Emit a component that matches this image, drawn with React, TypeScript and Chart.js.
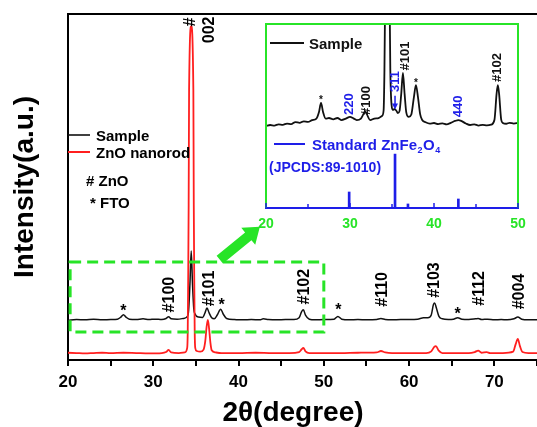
import React, { useEffect, useRef } from 'react';
import { Chart, registerables } from 'chart.js';

Chart.register(...registerables);

const FONT = "'Liberation Sans', Arial, Helvetica, sans-serif";
const GREEN = '#27e427';
const BLUE = '#1e1ee8';
const RED = '#ff1f1f';
const BLACK = '#111111';

// ---------- main pattern: Sample (black) ----------
const sampleTheta = [20.0, 21.0, 22.0, 23.0, 24.0, 25.0, 25.8, 26.2, 26.5, 26.8, 27.2, 28.0, 28.8, 29.5, 30.2, 31.0, 31.5, 31.8, 32.1, 32.8, 33.5, 34.0, 34.15, 34.3, 34.45, 34.6, 34.75, 34.9, 35.3, 35.8, 36.05, 36.3, 36.55, 36.85, 37.15, 37.5, 37.9, 38.2, 38.6, 39.5, 40.5, 41.5, 42.5, 42.9, 43.5, 44.5, 45.5, 46.5, 47.1, 47.4, 47.6, 47.85, 48.3, 49.0, 50.0, 51.2, 51.65, 52.1, 53.0, 54.0, 55.0, 56.2, 56.7, 57.2, 58.0, 59.0, 60.0, 61.0, 61.7, 62.2, 62.6, 62.85, 63.0, 63.2, 63.5, 63.9, 64.6, 65.2, 65.7, 66.2, 67.0, 67.8, 68.1, 68.5, 69.2, 70.0, 70.8, 71.5, 72.3, 72.75, 73.2, 74.0, 75.0];
const sampleIntensity = [11.5, 11.7, 11.6, 11.8, 11.6, 11.7, 11.8, 12.4, 13.1, 12.4, 11.8, 11.7, 11.9, 11.7, 11.8, 11.7, 12.0, 12.5, 11.9, 11.8, 12.0, 12.6, 14.5, 22.0, 31.5, 22.0, 14.8, 13.3, 12.4, 12.3, 13.5, 15.0, 13.6, 12.2, 11.9, 13.0, 14.7, 13.3, 12.0, 11.7, 11.6, 11.7, 11.6, 11.9, 11.7, 11.6, 11.7, 11.7, 12.2, 14.0, 14.5, 13.0, 11.8, 11.6, 11.7, 11.8, 12.6, 11.8, 11.6, 11.7, 11.6, 11.7, 12.0, 11.7, 11.6, 11.7, 11.7, 11.8, 12.2, 12.2, 13.0, 16.0, 16.5, 15.0, 12.6, 11.9, 11.7, 11.8, 12.2, 11.8, 11.7, 11.9, 12.0, 11.7, 11.8, 11.6, 11.7, 11.6, 11.9, 12.4, 11.8, 11.6, 11.6];

// ---------- main pattern: ZnO nanorod (red) ----------
const nanorodTheta = [20.0, 21.0, 22.0, 23.0, 24.0, 25.0, 26.5, 28.0, 29.5, 31.0, 31.5, 31.8, 32.1, 33.0, 33.7, 33.98, 34.04, 34.1, 34.15, 34.2, 34.45, 34.7, 34.75, 34.8, 34.86, 34.92, 35.1, 35.5, 35.9, 36.1, 36.25, 36.4, 36.55, 36.7, 36.85, 37.3, 38.0, 40.0, 42.0, 44.0, 46.0, 47.1, 47.4, 47.6, 47.85, 48.3, 50.0, 52.0, 54.0, 56.2, 56.7, 57.2, 58.0, 60.0, 62.0, 62.6, 62.95, 63.15, 63.45, 63.9, 65.0, 67.0, 67.7, 68.1, 68.5, 69.1, 69.5, 71.0, 72.2, 72.5, 72.75, 73.0, 73.3, 74.0, 75.0];
const nanorodIntensity = [2.1, 2.0, 1.9, 2.0, 2.1, 2.0, 2.1, 2.0, 1.9, 2.0, 2.3, 2.9, 2.2, 2.0, 2.2, 3.5, 8.0, 25.0, 45.0, 78.0, 96.5, 78.0, 45.0, 25.0, 8.0, 3.5, 2.6, 2.4, 3.0, 5.5, 9.5, 11.6, 9.0, 5.0, 2.8, 2.2, 2.0, 2.0, 2.1, 2.0, 2.0, 2.3, 3.1, 3.5, 2.5, 2.0, 2.0, 2.0, 2.1, 2.2, 2.6, 2.2, 2.0, 2.0, 2.0, 2.5, 3.8, 4.0, 2.8, 2.0, 2.0, 2.0, 2.3, 2.7, 2.1, 2.3, 2.0, 2.0, 2.4, 4.6, 6.1, 4.0, 2.3, 2.0, 2.0];

// ---------- inset: Sample detail ----------
const insetTheta = [20.0, 20.5, 21.0, 21.5, 22.0, 22.5, 23.0, 23.5, 24.0, 24.5, 25.0, 25.5, 26.0, 26.3, 26.55, 26.8, 27.1, 27.5, 28.0, 28.5, 29.0, 29.5, 30.0, 30.4, 30.8, 31.3, 31.6, 31.8, 32.0, 32.4, 32.9, 33.4, 33.8, 34.0, 34.1, 34.2, 34.45, 34.7, 34.8, 34.95, 35.1, 35.3, 35.5, 35.7, 35.9, 36.1, 36.3, 36.5, 36.7, 37.0, 37.3, 37.6, 37.85, 38.1, 38.35, 38.6, 39.0, 39.5, 40.0, 40.5, 41.0, 41.5, 42.0, 42.5, 42.9, 43.3, 43.8, 44.3, 44.8, 45.3, 45.8, 46.3, 46.8, 47.2, 47.45, 47.6, 47.75, 48.0, 48.2, 48.6, 49.0, 49.5, 50.0];
const insetIntensity = [44.6, 45.1, 44.8, 45.5, 45.2, 45.9, 45.6, 46.7, 46.3, 47.1, 46.8, 47.8, 48.6, 52.0, 57.1, 52.0, 48.6, 48.9, 48.2, 48.9, 47.8, 48.6, 49.5, 48.7, 47.8, 48.6, 51.0, 52.7, 51.0, 47.8, 48.6, 48.9, 50.0, 53.0, 75.0, 120.0, 140.0, 120.0, 75.0, 56.0, 53.3, 53.8, 53.0, 51.6, 52.8, 62.0, 73.4, 62.0, 52.0, 49.5, 50.8, 60.0, 66.8, 60.0, 51.0, 47.8, 46.6, 45.9, 46.2, 45.6, 46.0, 45.5, 46.3, 47.3, 47.8, 47.2, 45.9, 45.1, 45.5, 44.8, 45.2, 44.9, 45.3, 48.0, 62.0, 66.8, 62.0, 48.0, 46.2, 45.8, 46.3, 45.9, 46.2];

// ---------- inset: standard ZnFe2O4 sticks ----------
const stdTheta = [29.9, 35.36, 36.9, 42.9];
const stdIntensity = [8.7, 29.3, 2.2, 4.9];

// ---------- annotations ----------
const znoPeakLabels = ['#100', '#101', '#102', '#110', '#103', '#112', '#004'];
const znoPeakTheta = [31.96, 36.65, 47.78, 56.93, 63.02, 68.3, 72.99];
const znoPeakLevel = [18.9, 20.7, 21.2, 20.4, 23.1, 20.7, 19.8];
const ftoStarTheta = [26.5, 38.0, 51.7, 65.7];
const ftoStarLevel = [15.3, 17.1, 15.6, 14.5];

const insetLabels = ['220', '#100', '311', '#101', '440', '#102'];
const insetLabelPhase = ['ZnFe2O4', 'ZnO', 'ZnFe2O4', 'ZnO', 'ZnFe2O4', 'ZnO'];
const insetLabelTheta = [29.9, 31.9, 35.36, 36.55, 42.86, 47.6];
const insetLabelLevel = [56.5, 58.4, 68.75, 82.6, 55.2, 76.4];
const insetStarTheta = [26.55, 37.85];
const insetStarLevel = [60.3, 69.6];

const toPts = (xs: number[], ys: number[]) => xs.map((x, i) => ({ x, y: ys[i] }));

function rotText(ctx: any, text: string, x: number, y: number, font: string, color: string) {
  ctx.save();
  ctx.translate(x, y);
  ctx.rotate(-Math.PI / 2);
  ctx.font = font;
  ctx.fillStyle = color;
  ctx.textAlign = 'center';
  ctx.textBaseline = 'middle';
  ctx.fillText(text, 0, 0);
  ctx.restore();
}

function drawArrow(ctx: any, x0: number, y0: number, x1: number, y1: number, color: string) {
  const dx = x1 - x0, dy = y1 - y0;
  const len = Math.hypot(dx, dy);
  const ux = dx / len, uy = dy / len;
  const nx = -uy, ny = ux;
  const headLen = 15, headHalf = 11, shaftHalf = 5;
  const bx = x1 - ux * headLen, by = y1 - uy * headLen;
  ctx.fillStyle = color;
  ctx.beginPath();
  ctx.moveTo(x0 + nx * shaftHalf, y0 + ny * shaftHalf);
  ctx.lineTo(bx + nx * shaftHalf, by + ny * shaftHalf);
  ctx.lineTo(bx + nx * headHalf, by + ny * headHalf);
  ctx.lineTo(x1, y1);
  ctx.lineTo(bx - nx * headHalf, by - ny * headHalf);
  ctx.lineTo(bx - nx * shaftHalf, by - ny * shaftHalf);
  ctx.lineTo(x0 - nx * shaftHalf, y0 - ny * shaftHalf);
  ctx.closePath();
  ctx.fill();
}

const mainDecor = {
  id: 'mainDecor',
  afterDraw(chart: any) {
    const { ctx, chartArea: a, scales } = chart;
    const x = scales.x, y = scales.y;
    ctx.save();
    // top frame
    ctx.strokeStyle = '#000';
    ctx.lineWidth = 2;
    ctx.beginPath();
    ctx.moveTo(a.left - 1, a.top);
    ctx.lineTo(a.right, a.top);
    ctx.stroke();

    // dashed zoom box
    ctx.strokeStyle = GREEN;
    ctx.lineWidth = 3;
    ctx.setLineDash([11, 6]);
    const bx1 = x.getPixelForValue(20.25), bx2 = x.getPixelForValue(50.0);
    const by1 = y.getPixelForValue(28.3), by2 = y.getPixelForValue(8.1);
    ctx.strokeRect(bx1, by1, bx2 - bx1, by2 - by1);
    ctx.setLineDash([]);

    // arrow to inset
    drawArrow(ctx, x.getPixelForValue(37.8), y.getPixelForValue(29.0), x.getPixelForValue(42.5), y.getPixelForValue(38.5), GREEN);

    // ZnO (002) label
    rotText(ctx, '#', x.getPixelForValue(34.42), y.getPixelForValue(97.7), `bold 16px ${FONT}`, '#000');
    rotText(ctx, '002', x.getPixelForValue(36.65), y.getPixelForValue(95.4), `bold 16px ${FONT}`, '#000');
    znoPeakLabels.forEach((t, i) => {
      rotText(ctx, t, x.getPixelForValue(znoPeakTheta[i]), y.getPixelForValue(znoPeakLevel[i]), `bold 16px ${FONT}`, '#000');
    });
    ctx.fillStyle = '#000';
    ctx.font = `bold 16px ${FONT}`;
    ctx.textAlign = 'center';
    ctx.textBaseline = 'alphabetic';
    ftoStarTheta.forEach((t, i) => {
      ctx.fillText('*', x.getPixelForValue(t), y.getPixelForValue(ftoStarLevel[i]) + 9);
    });

    // legend
    ctx.lineWidth = 1.6;
    ctx.strokeStyle = BLACK;
    ctx.beginPath();
    ctx.moveTo(a.left, a.top + 121);
    ctx.lineTo(a.left + 22, a.top + 121);
    ctx.stroke();
    ctx.strokeStyle = RED;
    ctx.lineWidth = 2;
    ctx.beginPath();
    ctx.moveTo(a.left, a.top + 138);
    ctx.lineTo(a.left + 22, a.top + 138);
    ctx.stroke();
    ctx.textAlign = 'left';
    ctx.fillStyle = '#000';
    ctx.font = `bold 15px ${FONT}`;
    ctx.fillText('Sample', a.left + 28, a.top + 126.5);
    ctx.fillText('ZnO nanorod', a.left + 28, a.top + 143.5);
    ctx.fillText('# ZnO', a.left + 18, a.top + 171.5);
    ctx.fillText('* FTO', a.left + 22, a.top + 193.5);

    // x title
    ctx.font = `bold 28px ${FONT}`;
    ctx.textAlign = 'center';
    ctx.fillText('2\u03B8(degree)', 293, 421);
    ctx.restore();
  },
};

const insetDecor = {
  id: 'insetDecor',
  afterDraw(chart: any) {
    const { ctx, chartArea: a, scales } = chart;
    const x = scales.x, y = scales.y;
    ctx.save();
    // green frame (left, top, right)
    ctx.strokeStyle = GREEN;
    ctx.lineWidth = 2;
    ctx.beginPath();
    ctx.moveTo(a.left, a.bottom);
    ctx.lineTo(a.left, a.top);
    ctx.lineTo(a.right, a.top);
    ctx.lineTo(a.right, a.bottom);
    ctx.stroke();
    // inward ticks
    ctx.strokeStyle = BLUE;
    ctx.lineWidth = 1.5;
    x.ticks.forEach((t: any) => {
      const px = x.getPixelForValue(t.value);
      ctx.beginPath();
      ctx.moveTo(px, a.bottom);
      ctx.lineTo(px, a.bottom - (t.value % 10 === 0 ? 5 : 4));
      ctx.stroke();
    });

    // legend: Sample
    ctx.strokeStyle = BLACK;
    ctx.lineWidth = 2;
    ctx.beginPath();
    ctx.moveTo(a.left + 4, a.top + 19);
    ctx.lineTo(a.left + 38, a.top + 19);
    ctx.stroke();
    ctx.fillStyle = '#111';
    ctx.font = `bold 15px ${FONT}`;
    ctx.textAlign = 'left';
    ctx.textBaseline = 'alphabetic';
    ctx.fillText('Sample', a.left + 43, a.top + 24.5);

    // legend: Standard ZnFe2O4
    ctx.strokeStyle = BLUE;
    ctx.beginPath();
    ctx.moveTo(a.left + 8, a.top + 120);
    ctx.lineTo(a.left + 39, a.top + 120);
    ctx.stroke();
    ctx.fillStyle = BLUE;
    let tx = a.left + 46;
    const base = a.top + 125.5;
    const big = `bold 15px ${FONT}`, small = `bold 9px ${FONT}`;
    ctx.font = big;
    ctx.fillText('Standard ZnFe', tx, base);
    tx += ctx.measureText('Standard ZnFe').width + 0.5;
    ctx.font = small;
    ctx.fillText('2', tx, base + 3);
    tx += ctx.measureText('2').width + 0.5;
    ctx.font = big;
    ctx.fillText('O', tx, base);
    tx += ctx.measureText('O').width + 0.5;
    ctx.font = small;
    ctx.fillText('4', tx, base + 3);
    ctx.font = `bold 14px ${FONT}`;
    ctx.fillText('(JPCDS:89-1010)', a.left + 3, a.top + 148);

    // peak labels
    insetLabels.forEach((t, i) => {
      rotText(ctx, t, x.getPixelForValue(insetLabelTheta[i]), y.getPixelForValue(insetLabelLevel[i]), `bold 13px ${FONT}`, insetLabelPhase[i] === 'ZnO' ? '#111' : BLUE);
    });
    // arrow under 311
    const ax = x.getPixelForValue(35.36);
    const ay0 = y.getPixelForValue(61), ay1 = y.getPixelForValue(53.5);
    ctx.strokeStyle = BLUE;
    ctx.lineWidth = 1.5;
    ctx.beginPath();
    ctx.moveTo(ax, ay0);
    ctx.lineTo(ax, ay1 - 5);
    ctx.stroke();
    ctx.fillStyle = BLUE;
    ctx.beginPath();
    ctx.moveTo(ax - 3, ay1 - 6);
    ctx.lineTo(ax + 3, ay1 - 6);
    ctx.lineTo(ax, ay1);
    ctx.closePath();
    ctx.fill();
    // FTO stars
    ctx.fillStyle = '#111';
    ctx.font = `bold 10px ${FONT}`;
    ctx.textAlign = 'center';
    insetStarTheta.forEach((t, i) => {
      ctx.fillText('*', x.getPixelForValue(t), y.getPixelForValue(insetStarLevel[i]) + 6);
    });
    ctx.restore();
  },
};

export default function App() {
  const mainRef = useRef<HTMLCanvasElement>(null);
  const insetRef = useRef<HTMLCanvasElement>(null);

  useEffect(() => {
    const main = new Chart(mainRef.current as HTMLCanvasElement, {
      type: 'line',
      data: {
        datasets: [
          {
            label: 'ZnO nanorod',
            data: toPts(nanorodTheta, nanorodIntensity),
            borderColor: RED,
            borderWidth: 1.8,
            pointRadius: 0,
            cubicInterpolationMode: 'monotone',
          },
          {
            label: 'Sample',
            data: toPts(sampleTheta, sampleIntensity),
            borderColor: BLACK,
            borderWidth: 1.5,
            pointRadius: 0,
            cubicInterpolationMode: 'monotone',
          },
        ],
      },
      options: {
        responsive: false,
        animation: false,
        layout: { padding: { top: 14, left: 0, right: 0, bottom: 0 } },
        plugins: { legend: { display: false }, tooltip: { enabled: false } },
        scales: {
          x: {
            type: 'linear',
            min: 20,
            max: 75,
            offset: false,
            afterFit: (s: any) => { s.height = 67; s.paddingRight = 0; s.paddingLeft = 0; },
            ticks: {
              stepSize: 5,
              autoSkip: false,
              maxRotation: 0,
              color: '#000',
              padding: 6,
              font: { family: FONT, size: 17, weight: 'bold' },
              callback: (v: any) => (Number(v) % 10 === 0 ? String(v) : ''),
            },
            grid: { drawOnChartArea: false, tickLength: 6, color: '#000', lineWidth: 2 },
            border: { color: '#000', width: 2 },
          },
          y: {
            min: 0,
            max: 100,
            afterFit: (s: any) => { s.width = 68; },
            ticks: { display: false },
            grid: { display: false },
            border: { color: '#000', width: 2 },
            title: {
              display: true,
              text: 'Intensity(a.u.)',
              color: '#000',
              font: { family: FONT, size: 28, weight: 'bold', lineHeight: 1 },
              padding: { top: 11, bottom: 0 },
            },
          },
        },
      } as any,
      plugins: [mainDecor],
    });

    const inset = new Chart(insetRef.current as HTMLCanvasElement, {
      type: 'line',
      data: {
        datasets: [
          {
            type: 'line',
            label: 'Sample',
            data: toPts(insetTheta, insetIntensity),
            borderColor: BLACK,
            borderWidth: 1.8,
            pointRadius: 0,
            cubicInterpolationMode: 'monotone',
          },
          {
            type: 'bar',
            label: 'Standard ZnFe2O4',
            data: toPts(stdTheta, stdIntensity),
            backgroundColor: BLUE,
            barThickness: 2,
          },
        ],
      } as any,
      options: {
        responsive: false,
        animation: false,
        layout: { padding: { top: 24, left: 30, right: 19, bottom: 0 } },
        plugins: { legend: { display: false }, tooltip: { enabled: false } },
        scales: {
          x: {
            type: 'linear',
            min: 20,
            max: 50,
            offset: false,
            afterFit: (s: any) => { s.height = 32; },
            ticks: {
              stepSize: 5,
              autoSkip: false,
              maxRotation: 0,
              color: GREEN,
              padding: 8,
              font: { family: FONT, size: 14, weight: 'bold' },
              callback: (v: any) => (Number(v) % 10 === 0 ? String(v) : ''),
            },
            grid: { drawOnChartArea: false, drawTicks: false },
            border: { color: BLUE, width: 2 },
          },
          y: { display: false, min: 0, max: 100 },
        },
      } as any,
      plugins: [insetDecor],
    });

    return () => {
      main.destroy();
      inset.destroy();
    };
  }, []);

  return (
    <div style={{ position: 'absolute', left: 0, top: 0, width: 537, height: 427, background: '#fff', overflow: 'hidden' }}>
      <canvas ref={mainRef} width={537} height={427} style={{ position: 'absolute', left: 0, top: 0 }} />
      <canvas ref={insetRef} width={301} height={240} style={{ position: 'absolute', left: 236, top: 0 }} />
    </div>
  );
}
